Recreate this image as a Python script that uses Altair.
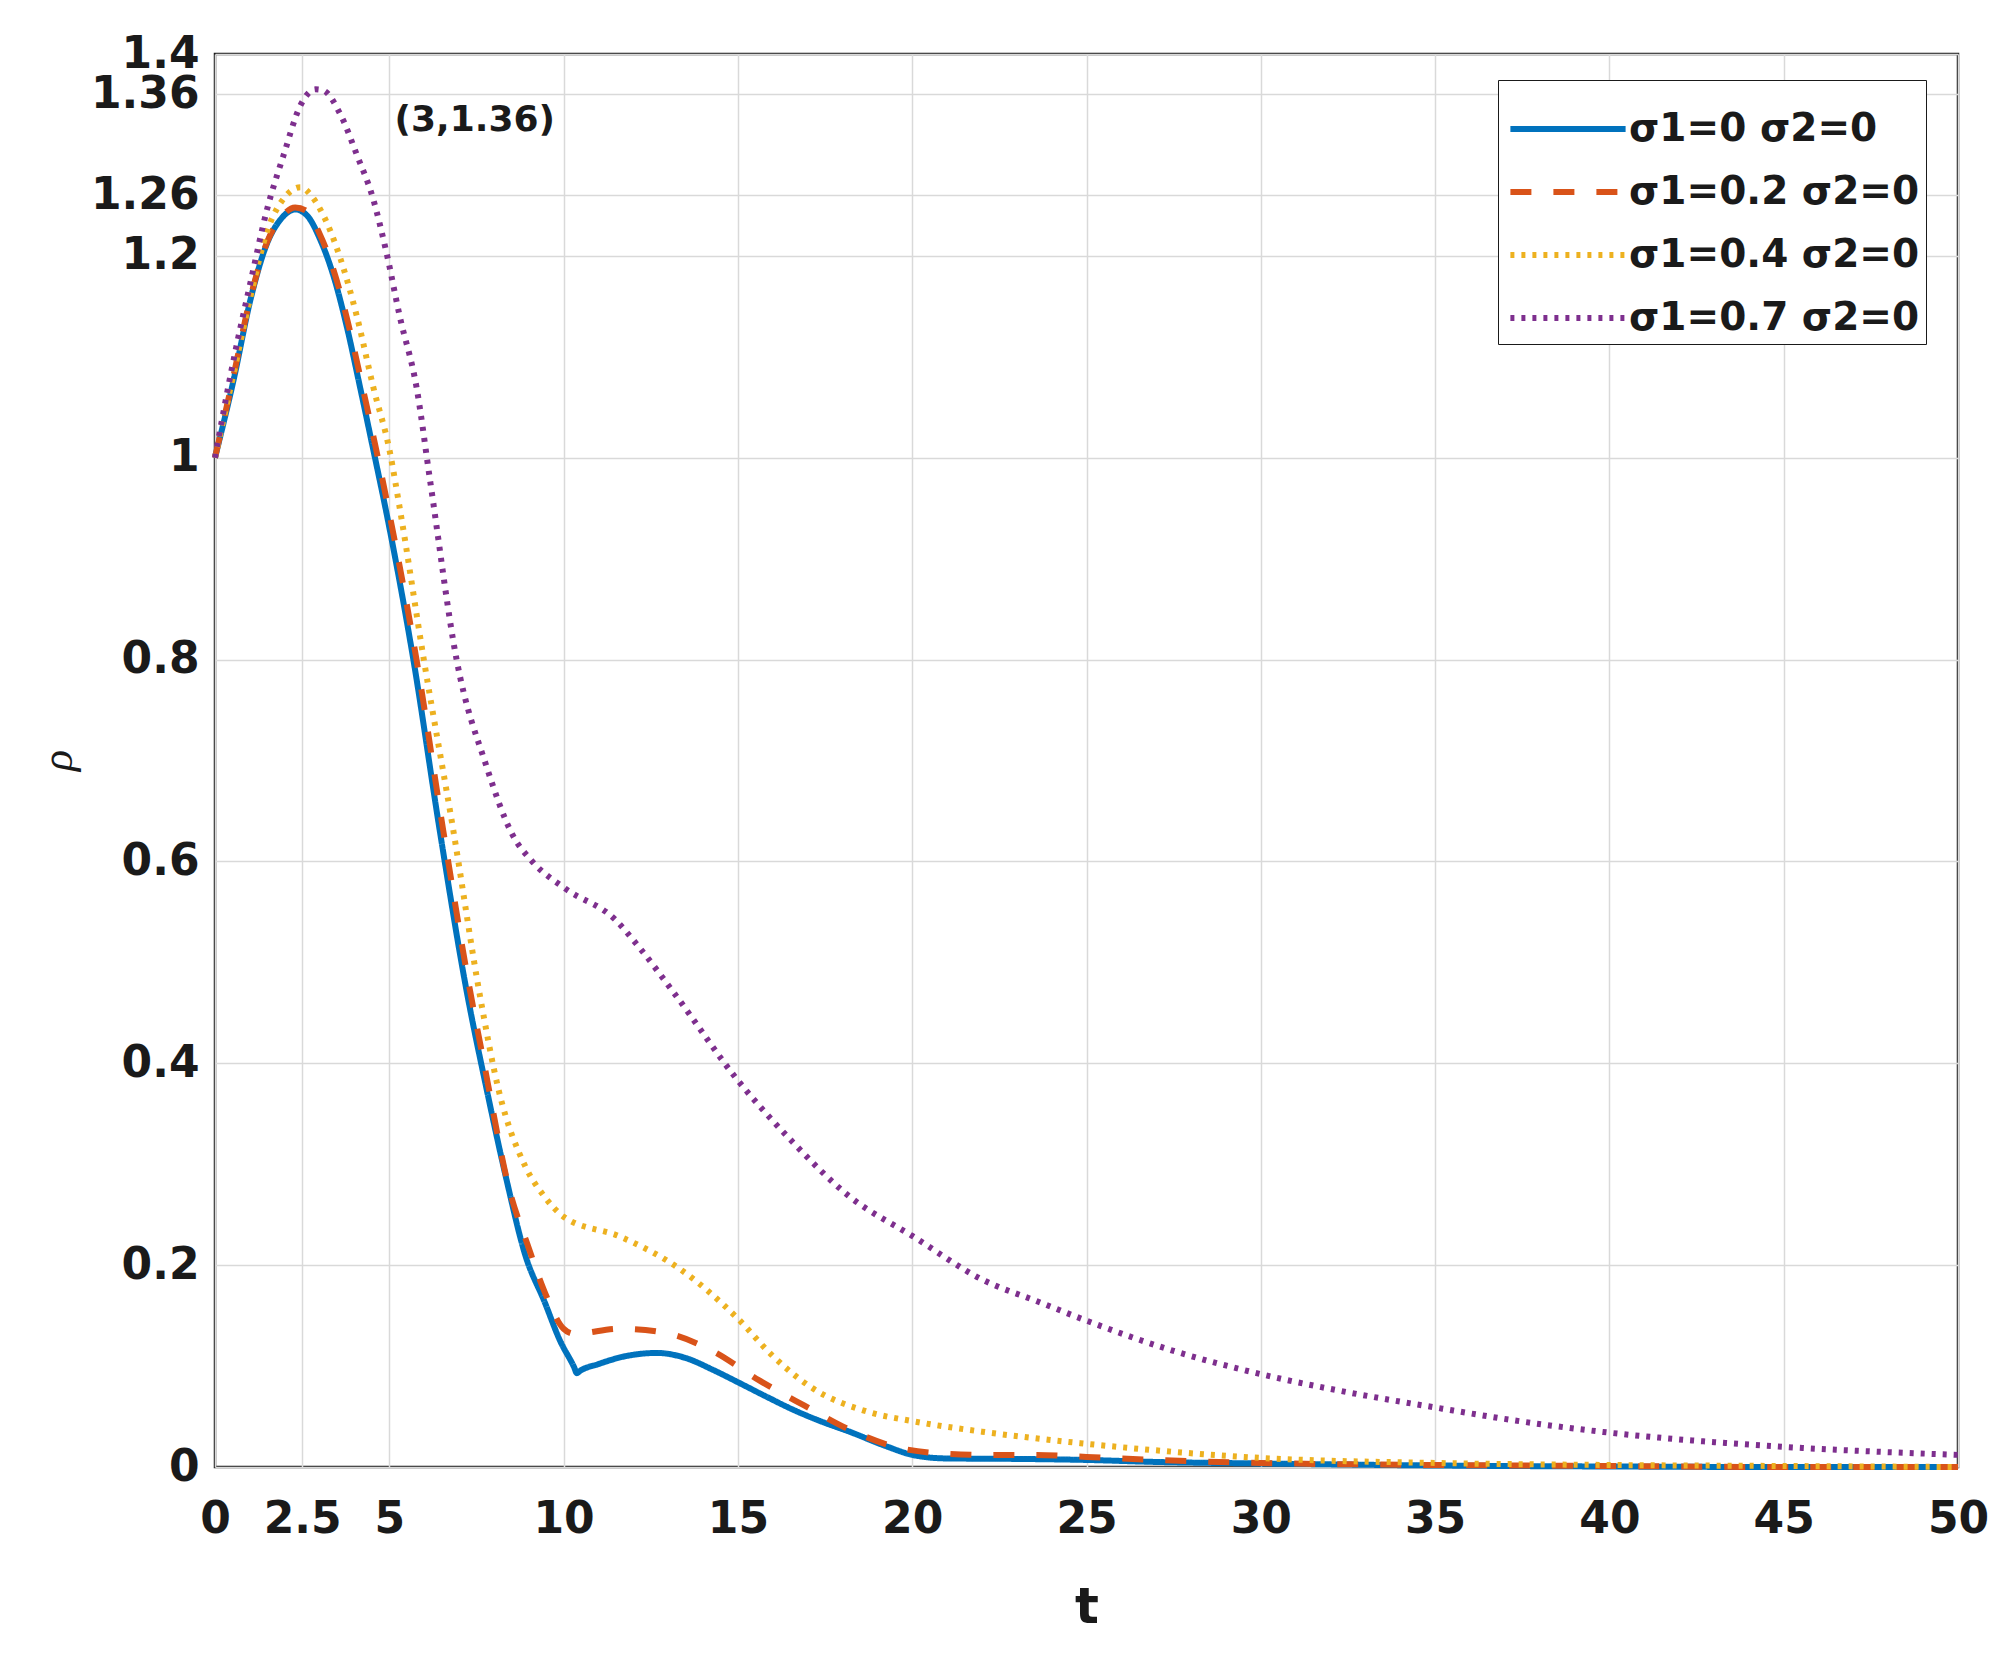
import altair as alt
import pandas as pd

# ---- data ----
series_names = ["σ1=0 σ2=0", "σ1=0.2 σ2=0", "σ1=0.4 σ2=0", "σ1=0.7 σ2=0"]

t_s0 = [0, 0.54, 1.02, 1.5, 1.88, 2.3, 2.64, 3.02, 3.4, 3.78, 4.16, 4.54, 4.92, 5.69, 6.45, 7.2, 7.8,
        8.36, 8.9, 9.45, 9.9, 10.3, 10.38, 10.46, 11.0, 11.8, 12.68, 13.5, 14.3, 15.0, 15.8, 16.57, 17.4,
        18.2, 19.3, 20.0, 20.95, 23, 25, 27, 30, 35, 40, 45, 50]
y_s0 = [1.0, 1.078, 1.157, 1.213, 1.236, 1.246, 1.24, 1.216, 1.18, 1.13, 1.07, 1.008, 0.945, 0.80, 0.63,
        0.475, 0.373, 0.285, 0.21, 0.164, 0.125, 0.099, 0.093, 0.095, 0.102, 0.11, 0.113, 0.108, 0.096,
        0.084, 0.07, 0.057, 0.045, 0.035, 0.020, 0.012, 0.0085, 0.008, 0.007, 0.005, 0.0035, 0.0015,
        0.0005, 0.0, 0.0]

t_s1 = [0, 0.5, 1.0, 1.5, 1.9, 2.3, 2.6, 3.0, 3.4, 3.8, 4.2, 4.6, 5.0, 5.78, 6.55, 7.3, 7.7, 8.47, 8.96,
        9.45, 10.0, 10.3, 11.6, 12.9, 14.27, 15.6, 16.9, 18.2, 19.5, 20.8, 22.2, 23.5, 25, 27, 30, 35, 40,
        45, 50]
y_s1 = [1.0, 1.076, 1.156, 1.214, 1.238, 1.248, 1.245, 1.222, 1.186, 1.136, 1.075, 1.012, 0.945, 0.80,
        0.63, 0.475, 0.403, 0.2715, 0.221, 0.174, 0.137, 0.132, 0.137, 0.133, 0.115, 0.086, 0.061, 0.037,
        0.020, 0.0135, 0.012, 0.012, 0.010, 0.007, 0.004, 0.002, 0.001, 0.0, 0.0]

t_s2 = [0, 0.5, 1.0, 1.5, 2.0, 2.45, 2.8, 3.02, 3.6, 4.07, 4.54, 5.02, 5.3, 5.99, 6.84, 7.6, 8.14, 8.9,
        9.45, 10.0, 11.64, 13.3, 15.0, 16.0, 17.1, 18.8, 20.0, 22.0, 23.9, 25, 30, 35, 40, 45, 50]
y_s2 = [1.0, 1.078, 1.157, 1.225, 1.258, 1.268, 1.258, 1.246, 1.197, 1.14, 1.07, 1.005, 0.95, 0.80, 0.63,
        0.467, 0.373, 0.298, 0.268, 0.248, 0.228, 0.197, 0.147, 0.11, 0.079, 0.054, 0.0455, 0.035, 0.027,
        0.023, 0.009, 0.004, 0.002, 0.001, 0.0]

t_s3 = [0, 0.54, 1.02, 1.5, 1.97, 2.45, 2.88, 3.1, 3.6, 4.07, 4.54, 4.92, 5.3, 5.78, 6.18, 6.93, 7.78,
        8.54, 9.1, 10.05, 11.46, 12.19, 13.16, 15.0, 16.57, 18.2, 20.0, 22.05, 23.6, 25, 27.5, 30, 32.5,
        35, 37.5, 40, 45, 50]
y_s3 = [1.0, 1.098, 1.174, 1.247, 1.30, 1.349, 1.365, 1.364, 1.34, 1.30, 1.256, 1.203, 1.14, 1.07, 0.975,
        0.80, 0.695, 0.626, 0.60, 0.573, 0.543, 0.514, 0.47, 0.383, 0.322, 0.268, 0.229, 0.185, 0.164,
        0.145, 0.115, 0.092, 0.074, 0.059, 0.045, 0.034, 0.020, 0.012]

x_ticks = [0, 2.5, 5, 10, 15, 20, 25, 30, 35, 40, 45, 50]
y_ticks = [0, 0.2, 0.4, 0.6, 0.8, 1, 1.2, 1.26, 1.36, 1.4]

annot_t = [5.15]
annot_y = [1.335]
annot_text = ["(3,1.36)"]

colors = ["#0072BD", "#D95319", "#EDB120", "#7E2F8E"]
dashes = [[1, 0], [21, 22], [4, 7], [4, 7]]

# ---- build table ----
rows = []
for name, ts, ys in zip(series_names, [t_s0, t_s1, t_s2, t_s3], [y_s0, y_s1, y_s2, y_s3]):
    for t, y in zip(ts, ys):
        rows.append({"t": t, "rho": y, "series": name})
df = pd.DataFrame(rows)
adf = pd.DataFrame({"t": annot_t, "rho": annot_y, "label": annot_text})

FONT = "DejaVu Sans"

x_enc = alt.X("t:Q", scale=alt.Scale(domain=[0, 50], nice=False, zero=False),
              axis=alt.Axis(values=x_ticks, format="~g", title="t", titleFontSize=50,
                            titleFont=FONT, titleFontWeight="bold", titleY=155,
                            titleBaseline="alphabetic", labelFontSize=44, labelFont=FONT,
                            labelFontWeight="bold", labelPadding=30, ticks=False, domain=False,
                            labelFlush=False, labelOverlap=False, labelColor="#1a1a1a",
                            titleColor="#1a1a1a", grid=True))
y_enc = alt.Y("rho:Q", scale=alt.Scale(domain=[0, 1.4], nice=False, zero=False),
              axis=alt.Axis(values=y_ticks, format="~g", title="ρ", titleFontSize=44,
                            titleFont="Liberation Serif", titleFontStyle="italic",
                            titleFontWeight="normal", titleX=-157, titleY=706, titleAngle=270,
                            titleAlign="center", titleBaseline="middle",
                            labelFontSize=44, labelFont=FONT, labelFontWeight="bold",
                            labelPadding=16, ticks=False, domain=False, labelFlush=False,
                            labelOverlap=False, labelColor="#1a1a1a", titleColor="#1a1a1a",
                            grid=True))

lines = alt.Chart(df).mark_line(strokeWidth=6, strokeCap="butt", interpolate="monotone").encode(
    x=x_enc,
    y=y_enc,
    color=alt.Color("series:N", scale=alt.Scale(domain=series_names, range=colors),
                    sort=series_names, title=None),
    strokeDash=alt.StrokeDash("series:N", scale=alt.Scale(domain=series_names, range=dashes),
                              sort=series_names, title=None),
    order=alt.Order("t:Q"),
)

annot = alt.Chart(adf).mark_text(align="left", baseline="middle", font=FONT, fontWeight="bold",
                                 fontSize=36, color="#1a1a1a").encode(
    x="t:Q", y="rho:Q", text="label:N")

chart = alt.layer(lines, annot).properties(
    width=1743, height=1413,
    autosize=alt.AutoSizeParams(type="none"),
    padding={"left": 207, "top": 46, "right": 45, "bottom": 184},
).configure_view(
    stroke="#1a1a1a", strokeWidth=2.5
).configure_axis(
    gridColor="#d9d9d9", gridWidth=1.5, gridOpacity=1
).configure_legend(
    orient="none", legendX=1283, legendY=26,
    strokeColor="#1a1a1a", fillColor="white", padding=6,
    labelFont=FONT, labelFontSize=39, labelFontWeight="bold", labelColor="#1a1a1a",
    symbolType="M-1.44,0H1.44", symbolSize=6400, symbolStrokeWidth=6, symbolOffset=21,
    labelOffset=18, rowPadding=0, labelLimit=0,
)

chart.save("out.html", embed_options={"renderer": "svg", "actions": False})
